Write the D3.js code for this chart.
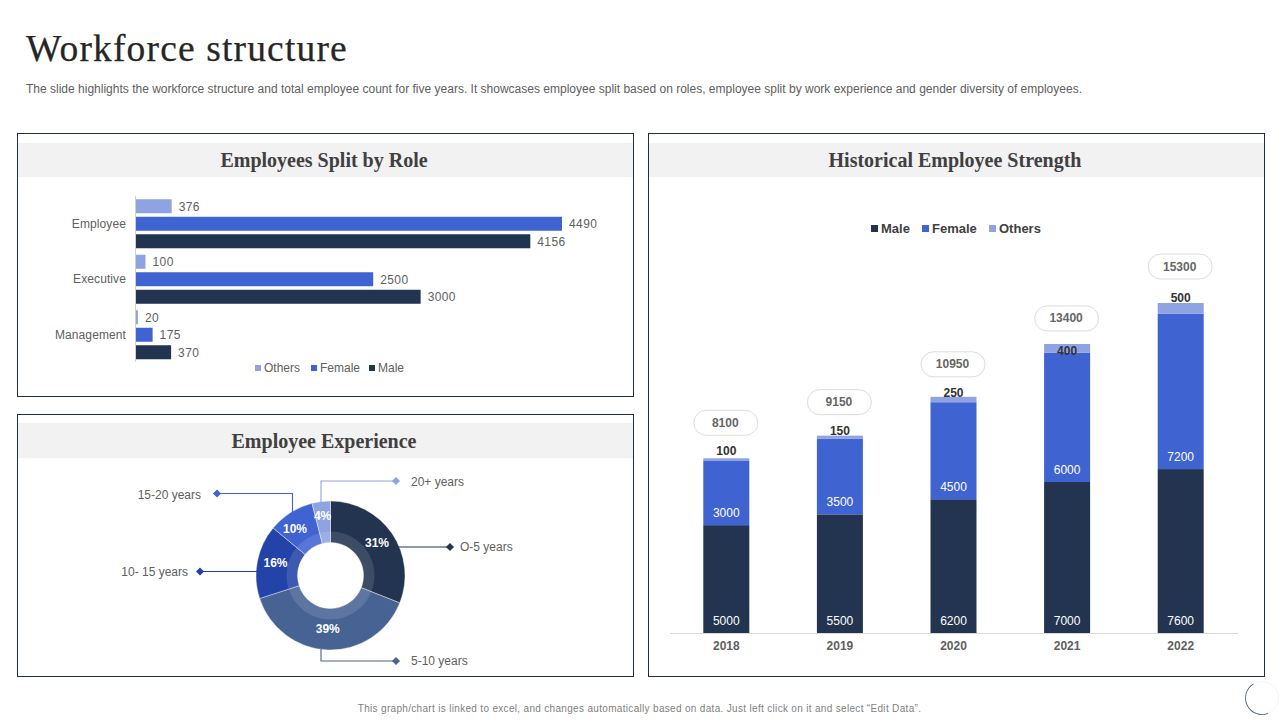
<!DOCTYPE html>
<html><head><meta charset="utf-8">
<script src="https://cdnjs.cloudflare.com/ajax/libs/d3/7.8.5/d3.min.js"></script>
<style>
html,body{margin:0;padding:0;background:#fff;overflow:hidden}
svg{display:block}
text{font-family:"Liberation Sans",Arial,sans-serif}
.serif{font-family:"Liberation Serif",serif}
.domain{display:none}
</style></head><body>
<svg id="c" width="1280" height="720"></svg>
<script>
// ---- data ----
const roleCategories = ["Employee","Executive","Management"];
const roleSeries = ["Others","Female","Male"];
const roleOthers = [376,100,20];
const roleFemale = [4490,2500,175];
const roleMale = [4156,3000,370];

const expLabels = ["O-5 years","5-10 years","10- 15 years","15-20 years","20+ years"];
const expValues = [31,39,16,10,4];

const years = ["2018","2019","2020","2021","2022"];
const histMale = [5000,5500,6200,7000,7600];
const histFemale = [3000,3500,4500,6000,7200];
const histOthers = [100,150,250,400,500];
const histTotals = [8100,9150,10950,13400,15300];

const titleText = "Workforce structure";
const subtitleText = "The slide highlights the workforce structure and total employee count for five years. It showcases employee split based on roles, employee split by work experience and gender diversity of employees.";
const footerText = "This graph/chart is linked to excel, and changes automatically based on data. Just left click on it and select \u201cEdit Data\u201d.";

// ---- styling ----
const cMale="#22344f", cFemale="#4063d2", cOthers="#8fa3e3";
const expColors=["#22344f","#466394","#2443a8","#4063d2","#8fa3e3"];
const txt="#606060", dark="#404040";
const svg=d3.select("#c");

svg.append("text").attr("class","serif").attr("x",26).attr("y",61).attr("font-size",37.5).attr("fill","#262626").attr("letter-spacing",1.15).attr("stroke","#262626").attr("stroke-width",.25).text(titleText);
svg.append("text").attr("x",26).attr("y",92.5).attr("font-size",12).attr("fill",txt).attr("textLength",1056).attr("lengthAdjust","spacing").text(subtitleText);
svg.append("text").attr("x",639.5).attr("y",712).attr("text-anchor","middle").attr("font-size",10).attr("fill","#7f7f7f").attr("letter-spacing",0.32).text(footerText);

function panel(x,y,w,h,hy,hh,title){
  svg.append("rect").attr("x",x+.5).attr("y",y+.5).attr("width",w).attr("height",h).attr("fill","#fff").attr("stroke","#1f2d3f").attr("stroke-width",1);
  svg.append("rect").attr("x",x+1).attr("y",hy).attr("width",w-1).attr("height",hh).attr("fill","#f2f2f2");
  svg.append("text").attr("class","serif").attr("x",x+w/2-1+(w>0?0:0)).attr("y",hy+hh/2+7).attr("text-anchor","middle").attr("font-size",20).attr("font-weight","bold").attr("fill",dark).text(title);
}
panel(17,133,616,263,143,34,"Employees Split by Role");
panel(17,414,616,262,423,35,"Employee Experience");
panel(648,133,616,543,143,34,"Historical Employee Strength");

// ---- role bars ----
const roleValues={Others:roleOthers,Female:roleFemale,Male:roleMale};
const roleColors={Others:cOthers,Female:cFemale,Male:cMale};
const rx=d3.scaleLinear().domain([0,4490]).range([136,562]);
const ry=d3.scaleBand().domain(roleCategories).range([196,362.5]);
const rs=d3.scaleBand().domain(roleSeries).range([0,ry.bandwidth()]).paddingInner(.2).paddingOuter(.185);
const ax=svg.append("g").attr("transform","translate(136,0)").call(d3.axisLeft(ry).tickSize(0).tickPadding(10));
ax.selectAll("text").attr("font-size",12).attr("fill",txt).attr("font-family","Liberation Sans").attr("letter-spacing",.1);
svg.append("line").attr("x1",135.5).attr("x2",135.5).attr("y1",196).attr("y2",362).attr("stroke","#d0d0d0");
roleCategories.forEach((cat,i)=>{
  roleSeries.forEach(s=>{
    const v=roleValues[s][i], y=ry(cat)+rs(s);
    svg.append("rect").attr("x",rx(0)).attr("y",y).attr("width",rx(v)-rx(0)).attr("height",rs.bandwidth()).attr("fill",roleColors[s]);
    svg.append("text").attr("x",rx(v)+7).attr("y",y+rs.bandwidth()/2+4.5).attr("font-size",12).attr("fill",txt).attr("letter-spacing",.4).text(v);
  });
});
const roleLegendX={Others:255,Female:311,Male:369};
roleSeries.forEach(s=>{
  svg.append("rect").attr("x",roleLegendX[s]).attr("y",365).attr("width",6).attr("height",6).attr("fill",roleColors[s]);
  svg.append("text").attr("x",roleLegendX[s]+9).attr("y",372).attr("font-size",12).attr("fill",txt).text(s);
});

// ---- donut ----
const cx=330.5, cy=575.5, R=74.5, R0=33, Rm=44;
const pie=d3.pie().sort(null).value(d=>d)(expValues);
const dg=svg.append("g").attr("transform",`translate(${cx},${cy})`);
const arcO=d3.arc().innerRadius(R0).outerRadius(R);
const arcI=d3.arc().innerRadius(R0).outerRadius(Rm);
const arcL=d3.arc().innerRadius(55).outerRadius(55);
const labelNudge=[[1,-2],[-1,-1],[-1,-2],[-6,0],[-1,-5]];
dg.selectAll("path.o").data(pie).join("path").attr("class","o").attr("d",arcO).attr("fill",(d,i)=>expColors[i]).attr("stroke","#fff").attr("stroke-width",.4);
dg.selectAll("path.i").data(pie).join("path").attr("class","i").attr("d",arcI).attr("fill","#fff").attr("fill-opacity",.12);
dg.selectAll("text").data(pie).join("text").attr("transform",(d,i)=>{const c=arcL.centroid(d);return `translate(${c[0]+labelNudge[i][0]},${c[1]+labelNudge[i][1]})`;}).attr("text-anchor","middle").attr("y",4).attr("font-size",12).attr("font-weight","bold").attr("fill","#fff").text((d,i)=>expValues[i]+"%");

// leader layout per slice: polyline points, marker, label position
const leaders=[
 {pts:[[398,547],[450,547]],lx:460,ly:551,a:"start"},
 {pts:[[321,649],[321,661],[396,661]],lx:411,ly:665,a:"start"},
 {pts:[[257,571.5],[200,571.5]],lx:188,ly:576,a:"end"},
 {pts:[[292.5,512],[292.5,493.5],[217,493.5]],lx:201,ly:499,a:"end"},
 {pts:[[321,503],[321,481],[396,481]],lx:411,ly:486,a:"start"}
];
const line=d3.line();
leaders.forEach((l,i)=>{
  svg.append("path").attr("d",line(l.pts)).attr("fill","none").attr("stroke",expColors[i]).attr("stroke-width",1.1);
  const e=l.pts[l.pts.length-1];
  svg.append("path").attr("d",d3.symbol(d3.symbolDiamond2,42)()).attr("transform",`translate(${e})`).attr("fill",expColors[i]);
  svg.append("text").attr("x",l.lx).attr("y",l.ly).attr("text-anchor",l.a).attr("font-size",12).attr("fill",txt).text(expLabels[i]);
});

// ---- stacked columns ----
const hx=d3.scaleBand().domain(years).range([669.5,1237.5]).paddingInner(.595).paddingOuter(.2975);
const hy=d3.scaleLinear().domain([0,15300]).range([633,303]);
const g=svg.append("g").attr("transform","translate(0,633)").call(d3.axisBottom(hx).tickSize(0).tickPadding(8));
g.selectAll("text").attr("font-size",12).attr("font-weight","bold").attr("fill",txt).attr("font-family","Liberation Sans");
svg.append("line").attr("x1",670).attr("x2",1238).attr("y1",633.5).attr("y2",633.5).attr("stroke","#d9d9d9");
const othersNudge=[-8,-6.5,-6.5,3,-10];
const pillNudge=[-36,-34,-33,-26,-37];
years.forEach((yr,i)=>{
  const x=hx(yr), w=hx.bandwidth();
  const y1=hy(histMale[i]), y2=hy(histMale[i]+histFemale[i]), y3=hy(histMale[i]+histFemale[i]+histOthers[i]);
  svg.append("rect").attr("x",x).attr("width",w).attr("y",y1).attr("height",hy(0)-y1).attr("fill",cMale);
  svg.append("rect").attr("x",x).attr("width",w).attr("y",y2).attr("height",y1-y2).attr("fill",cFemale);
  svg.append("rect").attr("x",x).attr("width",w).attr("y",y3).attr("height",y2-y3).attr("fill",cOthers);
  const mid=x+w/2;
  const lab=(v,y,col,extra)=>svg.append("text").attr("x",mid).attr("y",y).attr("text-anchor","middle").attr("font-size",12).attr("fill",col).attr("font-weight",extra||"normal").text(v);
  lab(histMale[i],624.5,"#fff");
  lab(histFemale[i],y1-8.5,"#fff");
  lab(histOthers[i],(y2+y3)/2+othersNudge[i]+4,"#333","bold");
  const py=hy(histTotals[i])+pillNudge[i]+.5;
  svg.append("rect").attr("x",mid-32.5).attr("y",py-12.5).attr("width",64).attr("height",25).attr("rx",12.5).attr("fill","#fff").attr("stroke","#dcdcdc");
  svg.append("text").attr("x",mid-1).attr("y",py+4).attr("text-anchor","middle").attr("font-size",12).attr("font-weight","bold").attr("fill","#666").text(histTotals[i]);
});
const histLegend=[["Male",cMale,871],["Female",cFemale,922],["Others",cOthers,989]];
histLegend.forEach(([n,c,x])=>{
  svg.append("rect").attr("x",x).attr("y",225).attr("width",7).attr("height",7).attr("fill",c);
  svg.append("text").attr("x",x+10).attr("y",233).attr("font-size",13).attr("font-weight","bold").attr("fill",dark).text(n);
});

// ---- corner spinner ----
const sp=svg.append("g").attr("transform","translate(1262,698)");
sp.append("circle").attr("r",16.5).attr("fill","none").attr("stroke","#f4f4f8");
sp.append("path").attr("d",d3.arc().innerRadius(16.1).outerRadius(16.9).startAngle(Math.PI*.88).endAngle(Math.PI*1.83)()).attr("fill","#4a5a9a");
</script>
</body></html>
